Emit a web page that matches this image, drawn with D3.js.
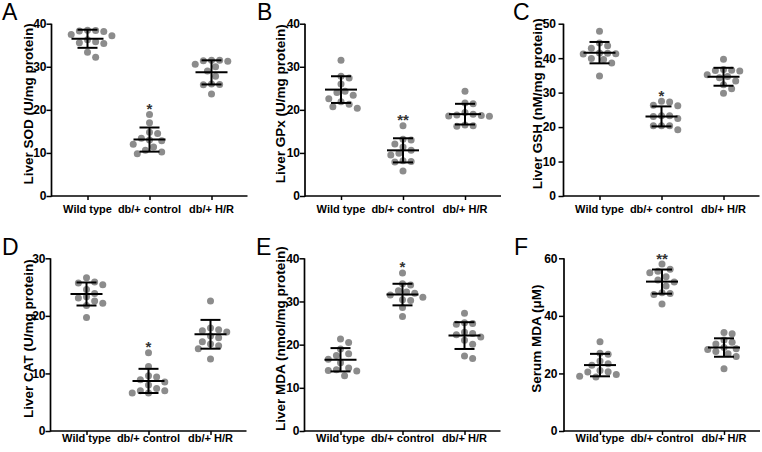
<!DOCTYPE html>
<html>
<head>
<meta charset="utf-8">
<script src="https://cdn.jsdelivr.net/npm/d3@7"></script>
<style>
  html, body { margin: 0; padding: 0; background: #fff; }
  svg { display: block; }
  text { font-family: "Liberation Sans", Arial, sans-serif; }
</style>
</head>
<body>
<svg id="chart" width="762" height="452"></svg>
<script>
// ---------------- DATA ----------------
const categories = ["Wild type", "db/+ control", "db/+ H/R"];
const panelLetters = ["A", "B", "C", "D", "E", "F"];
const yTitles = [
  "Liver SOD (U/mg protein)",
  "Liver GPx (U/mg protein)",
  "Liver GSH (nM/mg protein)",
  "Liver CAT (U/mg protein)",
  "Liver MDA (nmol/mg protein)",
  "Serum MDA (\u03bcM)"
];
const yMax = [40, 40, 50, 30, 40, 60];
const yStep = [10, 10, 10, 10, 10, 20];

const sodValues = [
  [38.5, 38.3, 38.2, 38.4, 37.5, 37.2, 36.3, 35.6, 35.4, 35.8, 33.4, 32.2],
  [18.9, 17.0, 14.8, 14.5, 13.4, 13.0, 12.8, 12.0, 11.4, 10.6, 10.2, 9.8],
  [31.5, 31.4, 31.5, 31.3, 30.6, 30.0, 29.0, 27.8, 26.0, 25.9, 25.8, 23.7]
];
const gpxValues = [
  [31.5, 27.8, 27.4, 26.0, 24.3, 24.0, 23.4, 22.6, 21.3, 20.7, 20.4, 21.9],
  [16.3, 13.2, 13.0, 12.1, 11.4, 10.6, 9.9, 9.5, 8.2, 8.0, 7.9, 5.8],
  [24.3, 21.6, 21.4, 19.4, 19.0, 18.8, 18.7, 18.6, 18.5, 16.5, 16.3, 16.2]
];
const gshValues = [
  [47.8, 44.4, 43.6, 42.9, 41.5, 41.3, 41.2, 41.4, 39.9, 39.6, 38.6, 34.8],
  [27.3, 27.5, 26.3, 26.2, 23.3, 23.3, 23.1, 22.5, 20.4, 20.4, 20.4, 19.2],
  [39.7, 36.7, 36.4, 36.5, 36.3, 35.2, 34.7, 34.3, 33.4, 32.3, 31.1, 29.8]
];
const catValues = [
  [26.6, 25.9, 25.7, 25.4, 24.6, 23.9, 23.3, 23.1, 22.6, 22.2, 21.8, 19.7],
  [13.6, 11.2, 9.6, 9.4, 8.9, 8.5, 8.0, 7.4, 7.0, 7.0, 6.6, 6.6],
  [22.6, 17.9, 17.6, 17.4, 17.2, 16.5, 16.2, 15.5, 15.1, 14.8, 14.3, 12.5]
];
const liverMdaValues = [
  [21.3, 20.5, 19.0, 17.9, 17.5, 16.6, 15.8, 14.6, 14.2, 14.0, 13.9, 12.8],
  [36.6, 34.1, 33.8, 32.5, 32.2, 31.9, 31.5, 31.0, 30.4, 30.2, 28.6, 26.5],
  [27.3, 25.1, 24.9, 24.7, 22.9, 22.6, 22.3, 21.8, 21.0, 20.1, 17.4, 16.8]
];
const serumMdaValues = [
  [31.0, 27.0, 26.7, 24.3, 23.4, 22.8, 21.0, 20.6, 20.5, 19.6, 19.0, 18.8],
  [58.0, 56.2, 55.5, 55.0, 53.6, 52.5, 51.8, 50.4, 48.0, 47.8, 47.4, 44.1],
  [34.2, 33.8, 31.6, 30.8, 30.2, 29.0, 28.6, 28.3, 27.6, 26.8, 25.9, 21.6]
];
const panelValues = [sodValues, gpxValues, gshValues, catValues, liverMdaValues, serumMdaValues];

const means = [
  [36.5, 13.1, 28.7],
  [24.7, 10.6, 19.0],
  [41.6, 23.1, 34.6],
  [23.8, 8.7, 16.8],
  [16.5, 31.6, 22.1],
  [22.9, 51.9, 29.0]
];
const sds = [
  [2.1, 2.8, 2.8],
  [3.1, 2.8, 2.4],
  [3.1, 2.9, 2.6],
  [2.0, 2.1, 2.5],
  [2.7, 2.5, 3.1],
  [3.9, 4.2, 3.2]
];
const sigMarks = [
  ["", "*", ""],
  ["", "**", ""],
  ["", "*", ""],
  ["", "*", ""],
  ["", "*", ""],
  ["", "**", ""]
];

// ---------------- LAYOUT ----------------
const svg = d3.select("#chart");
const axisX = [51.5, 305, 563.5, 50.5, 304.5, 564];
const titleOffset = [19, 20.5, 22, 18, 20, 23];
const tickPad = [0, 0, 2.5, 0, 0, 1.5];
const axisW = 196;
const rowBottom = [196, 431];
const rowTop = [23.7, 258.3];
const rowLabelBase = [17, 11];
const letterPos = [[2, 20], [257, 20], [513, 20], [2, 255], [256, 255], [514, 255]];
const pointColor = "#8c8c8c";
const r = 3.5;

function swarm(vals, y, cx) {
  const d = 2 * r + 0.4;
  const pts = vals.map(v => ({ v, py: y(v) })).sort((a, b) => a.py - b.py);
  const placed = [];
  const cands = [0];
  for (let k = 1; k < 16; k++) { cands.push(k * d * 0.55, -k * d * 0.55); }
  pts.forEach(p => {
    for (const off of cands) {
      const px = cx + off;
      if (placed.every(q => Math.hypot(q.px - px, q.py - p.py) >= d)) {
        p.px = px; placed.push(p); break;
      }
    }
  });
  return placed;
}

panelValues.forEach((vals, i) => {
  const row = i < 3 ? 0 : 1;
  const x0 = axisX[i];
  const g = svg.append("g");

  const y = d3.scaleLinear().domain([0, yMax[i]]).range([rowBottom[row], rowTop[row]]);
  const x = d3.scalePoint().domain(categories).range([x0 + 36, x0 + 160]);

  // y axis
  const yAxis = d3.axisLeft(y).tickValues(d3.range(0, yMax[i] + 0.01, yStep[i]))
    .tickSize(5).tickPadding(tickPad[i]).tickFormat(d3.format("d"));
  const ya = g.append("g").attr("transform", `translate(${x0},0)`).call(yAxis);
  ya.select(".domain").remove();
  ya.append("line").attr("x1", 0).attr("x2", 0)
    .attr("y1", rowTop[row]).attr("y2", rowBottom[row] + 0.8)
    .attr("stroke", "#000").attr("stroke-width", 1.7);
  ya.selectAll(".tick line").attr("stroke", "#000").attr("stroke-width", 1.5);
  ya.selectAll(".tick text").attr("fill", "#000")
    .style("font-size", "12px").style("font-weight", "bold")
    .style("font-family", "'Liberation Sans', Arial, sans-serif");

  // x axis
  const xAxis = d3.axisBottom(x).tickSize(4).tickPadding(0).tickFormat("");
  const xa = g.append("g").attr("transform", `translate(0,${rowBottom[row]})`).call(xAxis);
  xa.select(".domain").remove();
  xa.append("line").attr("x1", x0).attr("x2", x0 + axisW)
    .attr("stroke", "#000").attr("stroke-width", 1.7);
  xa.selectAll(".tick line").attr("stroke", "#000").attr("stroke-width", 1.5);
  g.selectAll(".xlab").data(categories).enter().append("text")
    .attr("x", d => x(d)).attr("y", rowBottom[row] + rowLabelBase[row])
    .attr("text-anchor", "middle")
    .style("font-size", "11px").style("font-weight", "bold")
    .text(d => d);

  // y title
  const cy = (rowTop[row] + rowBottom[row]) / 2 - 6;
  g.append("text")
    .attr("transform", `translate(${x0 - titleOffset[i]},${cy}) rotate(-90)`)
    .attr("text-anchor", "middle")
    .style("font-size", "13.5px").style("font-weight", "bold")
    .text(yTitles[i]);

  // panel letter
  svg.append("text").attr("x", letterPos[i][0]).attr("y", letterPos[i][1])
    .style("font-size", "23px").text(panelLetters[i]);

  // points
  vals.forEach((groupVals, j) => {
    const cx = x(categories[j]);
    const pts = swarm(groupVals, y, cx);
    g.selectAll(null).data(pts).enter().append("circle")
      .attr("cx", p => p.px).attr("cy", p => p.py).attr("r", r)
      .attr("fill", pointColor);

    // mean and SD
    const m = means[i][j], s = sds[i][j];
    const eg = g.append("g").attr("stroke", "#000").attr("stroke-width", 2);
    eg.append("line").attr("x1", cx).attr("x2", cx).attr("y1", y(m + s)).attr("y2", y(m - s));
    eg.append("line").attr("x1", cx - 16).attr("x2", cx + 16).attr("y1", y(m)).attr("y2", y(m));
    eg.append("line").attr("x1", cx - 10).attr("x2", cx + 10).attr("y1", y(m + s)).attr("y2", y(m + s));
    eg.append("line").attr("x1", cx - 10).attr("x2", cx + 10).attr("y1", y(m - s)).attr("y2", y(m - s));

    if (sigMarks[i][j]) {
      const top = y(d3.max(groupVals));
      g.append("text").attr("x", cx).attr("y", top - 0.5)
        .attr("text-anchor", "middle")
        .style("font-size", "15px").style("font-weight", "bold")
        .attr("fill", "#333")
        .text(sigMarks[i][j]);
    }
  });
});
</script>
</body>
</html>
